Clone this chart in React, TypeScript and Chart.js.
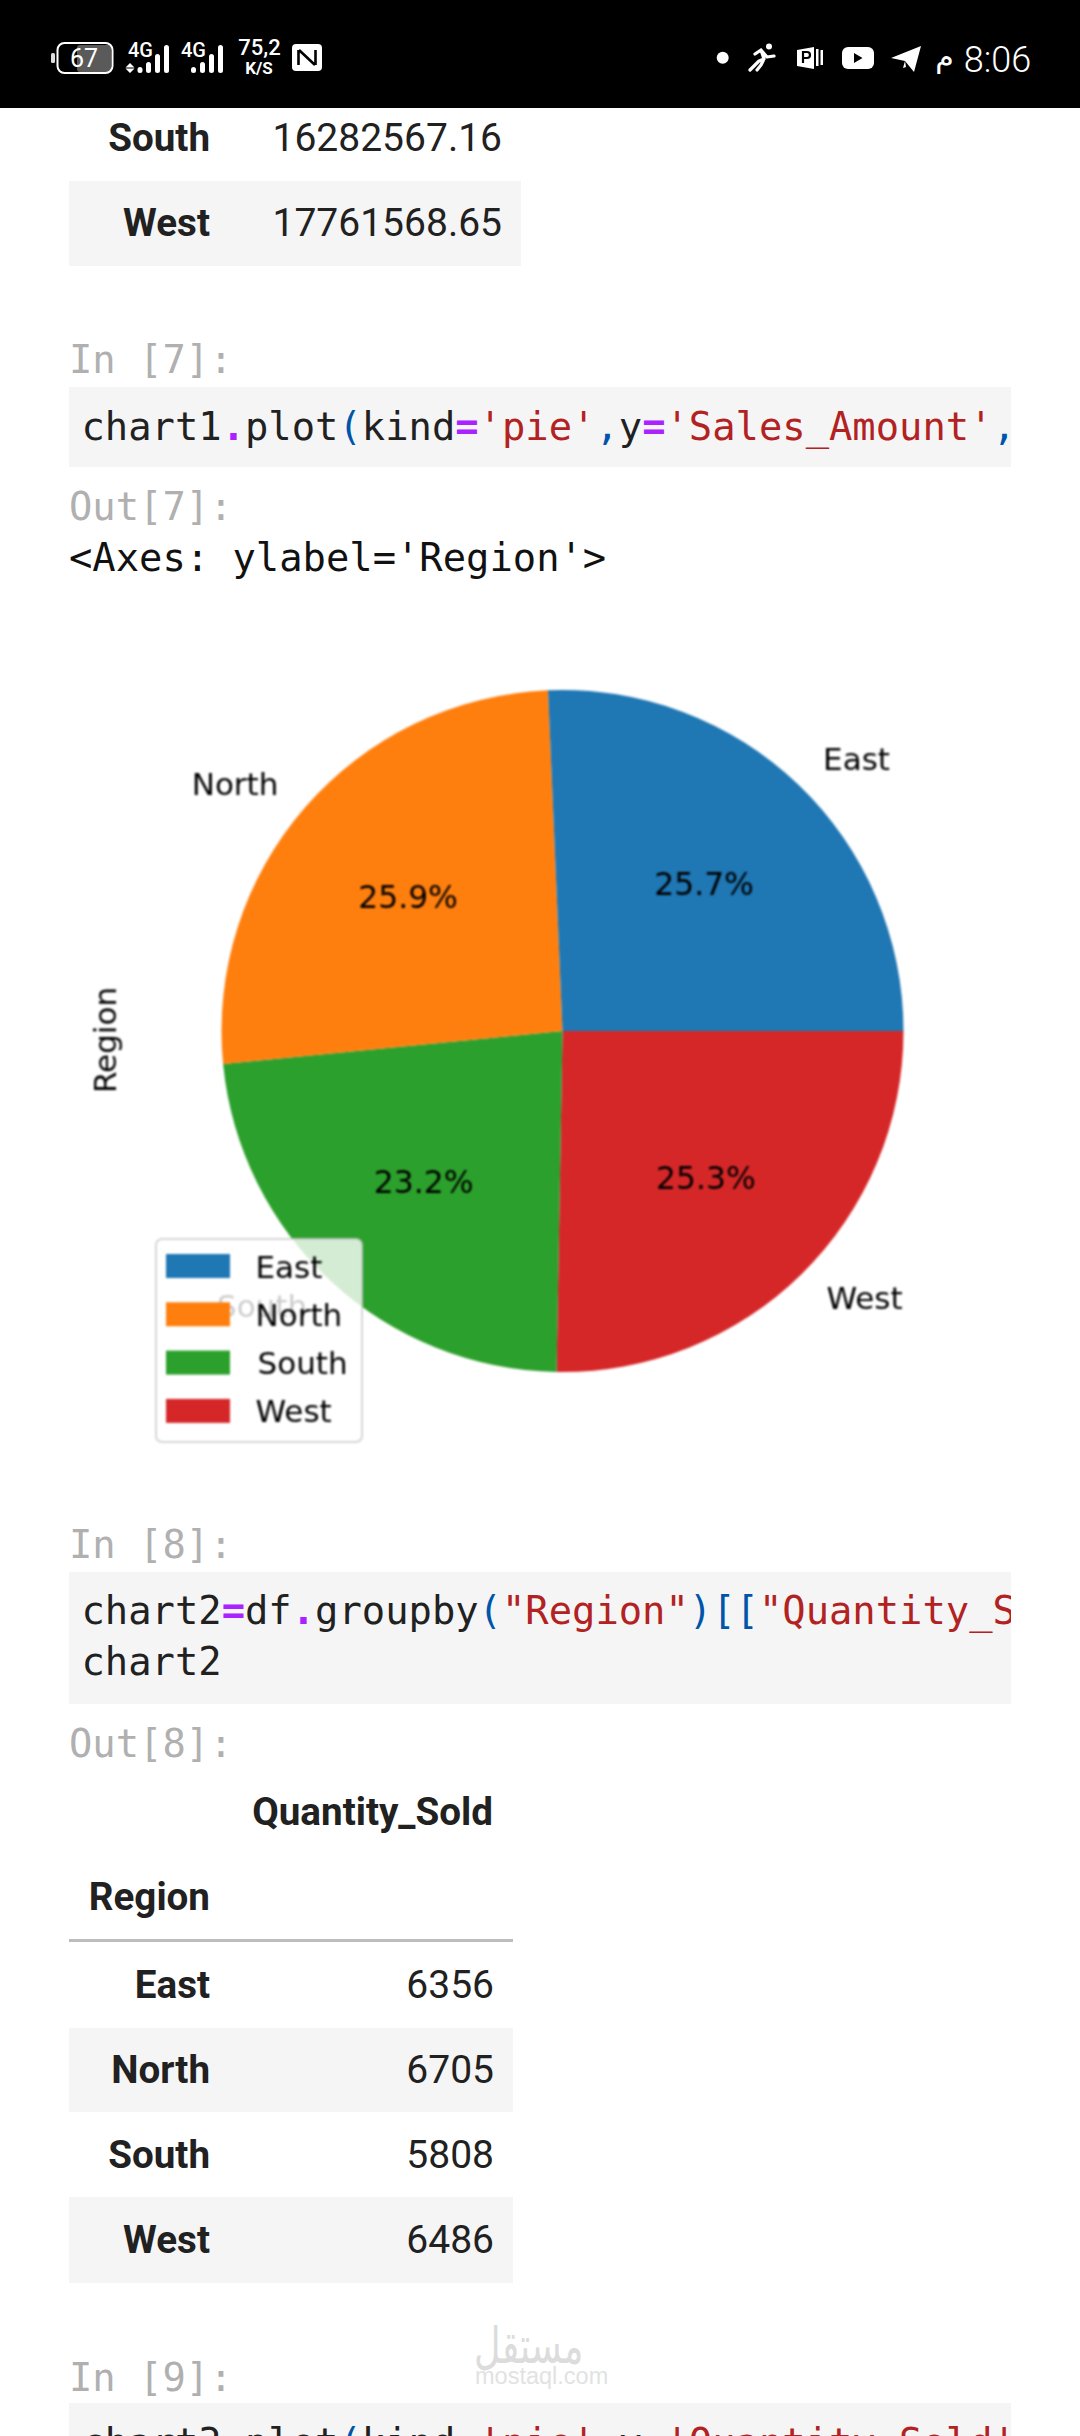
import React, { useEffect, useRef } from "react";
import { Chart, registerables } from "chart.js";

Chart.register(...registerables);

const regions = ["East", "North", "South", "West"];
const salesAmount = [18040000.0, 18180000.0, 16282567.16, 17761568.65];
const percentLabels = ["25.7%", "25.9%", "23.2%", "25.3%"];
const sliceColors = ["#1f77b4", "#ff7f0e", "#2ca02c", "#d62728"];
const quantityRegions = ["East", "North", "South", "West"];
const quantitySold = ["6356", "6705", "5808", "6486"];

const TEXT = "#212121";
const MONO = '"DejaVu Sans Mono", monospace';
const SANS = 'Roboto, sans-serif';
const PANEL = "#f5f5f5";
const FS = 39;
const BFS = 38.6;
const MFS = 38.8;

// The slices run counter-clockwise from 3 o'clock in the reference; Chart.js runs clockwise.
const rev = <T,>(a: T[]) => [...a].reverse();

const piePlugin = {
  id: "pieAnnotations",
  afterDatasetsDraw(chart: any) {
    const ctx = chart.ctx as CanvasRenderingContext2D;
    const arcs = chart.getDatasetMeta(0).data;
    const labs = rev(regions);
    const pcts = rev(percentLabels);
    ctx.save();
    ctx.fillStyle = "#000";
    ctx.textBaseline = "middle";
    arcs.forEach((arc: any, i: number) => {
      const { x, y, startAngle, endAngle, outerRadius } = arc.getProps(
        ["x", "y", "startAngle", "endAngle", "outerRadius"],
        true
      );
      const mid = (startAngle + endAngle) / 2;
      ctx.font = '31px "DejaVu Sans"';
      const c = Math.cos(mid);
      ctx.textAlign = c > 0 ? "left" : "right";
      ctx.fillText(labs[i], x + 1.1 * outerRadius * c + (c > 0 ? 1 : -1), y + 2 + 1.1 * outerRadius * Math.sin(mid));
      ctx.font = '31.4px "DejaVu Sans"';
      ctx.textAlign = "center";
      ctx.fillText(pcts[i], x + 0.6 * outerRadius * c, y + 3.5 + 0.6 * outerRadius * Math.sin(mid));
    });

    // ylabel
    ctx.save();
    ctx.translate(107.5, 1040 - chart.canvas.offsetTop);
    ctx.rotate(-Math.PI / 2);
    ctx.font = '31px "DejaVu Sans"';
    ctx.textAlign = "center";
    ctx.fillStyle = "#000";
    ctx.fillText("Region", 0, 0);
    ctx.restore();

    // legend
    const top = chart.canvas.offsetTop;
    ctx.beginPath();
    ctx.roundRect(156, 1239 - top, 206, 203, 6);
    ctx.fillStyle = "rgba(255,255,255,0.8)";
    ctx.fill();
    ctx.lineWidth = 2;
    ctx.strokeStyle = "rgba(204,204,204,0.8)";
    ctx.stroke();
    ctx.font = '31px "DejaVu Sans"';
    ctx.textAlign = "left";
    regions.forEach((r, i) => {
      const rowY = 1254 + i * 48.3 - top;
      ctx.fillStyle = sliceColors[i];
      ctx.fillRect(166, rowY, 64, 24);
      ctx.fillStyle = "#000";
      ctx.fillText(r, r === "South" ? 257.5 : 255.5, rowY + 15.5);
    });
    ctx.restore();
  },
};

function PieChart() {
  const ref = useRef<HTMLCanvasElement>(null);
  useEffect(() => {
    const chart = new Chart(ref.current!, {
      type: "pie",
      data: {
        labels: rev(regions),
        datasets: [
          {
            data: rev(salesAmount),
            backgroundColor: rev(sliceColors),
            borderWidth: 0,
          },
        ],
      },
      options: {
        animation: false,
        responsive: false,
        rotation: 90,
        layout: { padding: { left: 221.5, right: 176.5, top: 70, bottom: 88 } },
        plugins: { legend: { display: false }, tooltip: { enabled: false } },
      },
      plugins: [piePlugin],
    } as any);
    return () => chart.destroy();
  }, []);
  return (
    <canvas
      ref={ref}
      width={1080}
      height={840}
      style={{ position: "absolute", left: 0, top: 620, width: 1080, height: 840, filter: "blur(0.8px)" }}
    />
  );
}

type TxtProps = {
  x?: number;
  right?: number;
  y: number;
  children: React.ReactNode;
  font?: string;
  size?: number;
  weight?: number;
  color?: string;
  squeeze?: number;
};
function Txt({ x, right, y, children, font = SANS, size = FS, weight = 400, color = TEXT, squeeze }: TxtProps) {
  const s: React.CSSProperties = {
    position: "absolute",
    top: y - 30,
    lineHeight: "60px",
    height: 60,
    fontFamily: font,
    fontSize: weight === 700 ? BFS : size,
    fontWeight: weight,
    color,
    whiteSpace: "pre",
  };
  if (x !== undefined) s.left = x;
  if (right !== undefined) s.right = 1080 - right;
  if (squeeze) {
    s.transform = `scaleX(${squeeze})`;
    s.transformOrigin = "left center";
  }
  return <div style={s}>{children}</div>;
}

function Panel({ top, bottom, right }: { top: number; bottom: number; right: number }) {
  return <div style={{ position: "absolute", left: 69, width: right - 69, top, height: bottom - top, background: PANEL }} />;
}

const OP = { color: "#aa22ff", fontWeight: 700 };
const STR = { color: "#b22222" };
const PUN = { color: "#0055aa" };

function Code({ y, tokens }: { y: number; tokens: [string, any?][] }) {
  return (
    <div
      style={{
        position: "absolute",
        left: 81.5,
        top: y - 30,
        width: 1011 - 81.5,
        height: 60,
        lineHeight: "60px",
        overflow: "hidden",
        whiteSpace: "pre",
        fontFamily: MONO,
        fontSize: MFS,
        color: TEXT,
      }}
    >
      {tokens.map(([t, st], i) => (
        <span key={i} style={st}>
          {t}
        </span>
      ))}
    </div>
  );
}

const Prompt = ({ y, children }: { y: number; children: string }) => (
  <Txt x={69} y={y} font={MONO} size={MFS} color="#b0b0b0">
    {children}
  </Txt>
);

function StatusBar() {
  const bars = (xs: number[]) =>
    xs.map((bx, i) => {
      const t = [67, 62, 54, 45][i];
      return <rect key={bx} x={bx - 2.5} y={t} width={5} height={73 - t} rx={2.5} fill="#fff" />;
    });
  const f = { fontFamily: SANS, fill: "#fff", textAnchor: "middle" as const };
  return (
    <svg
      width={1080}
      height={108}
      style={{ position: "absolute", left: 0, top: 0, display: "block", background: "#000" }}
    >
      <rect x={51} y={53} width={4} height={10} rx={1.5} fill="#ddd" />
      <rect x={77} y={45} width={34} height={27} rx={3} fill="#5a5a5a" />
      <rect x={57.5} y={43} width={55} height={30} rx={7} fill="none" stroke="#fff" strokeWidth={2} />
      <text x={84} y={67} fontSize={25} {...f}>67</text>

      <text x={140.5} y={57} fontSize={20} fontWeight={500} {...f}>4G</text>
      <path d="M130 63l4.5 4.5h-9zM130 73l4.5-4.5h-9z" fill="#fff" />
      {bars([140, 148.5, 157.5, 166.5])}

      <text x={193.5} y={57} fontSize={20} fontWeight={500} {...f}>4G</text>
      {bars([193.5, 202.5, 211.5, 220.5])}

      <text x={259.5} y={55} fontSize={22} fontWeight={500} {...f}>75,2</text>
      <text x={259} y={74} fontSize={17} fontWeight={700} {...f}>K/S</text>

      <rect x={292} y={44} width={30} height={27} rx={4} fill="#fff" />
      <path d="M298.5 50v15M315.5 50v15M299 50l16 15" stroke="#000" strokeWidth={2.6} fill="none" />

      <circle cx={722.7} cy={57.7} r={6} fill="#fff" />

      <g stroke="#fff" strokeWidth={3.2} fill="none" strokeLinecap="round" strokeLinejoin="round">
        <path d="M750 70l9-9 5-2-3-9-6 4M761 50l6 7 7-1M764 59l-3 6-4 5" />
      </g>
      <circle cx={769} cy={46.5} r={3} fill="#fff" />

      <path d="M797 50l17-3v22l-17-3z" fill="#fff" />
      <path d="M803 63V52h4a3 3 0 0 1 0 6h-4" stroke="#000" strokeWidth={2.2} fill="none" />
      <rect x={816} y={49} width={2.5} height={17} fill="#fff" />
      <rect x={820.5} y={50} width={2.5} height={15} fill="#fff" />

      <rect x={842} y={47} width={32} height={22} rx={6} fill="#fff" />
      <path d="M854 53l8.5 5-8.5 5z" fill="#000" />

      <path d="M891 58l30-12-7 26-9-11z" fill="#fff" />
      <path d="M905 61l-2 7 3-1" fill="#fff" />

      <text x={944.5} y={67} fontSize={30} fontFamily='"DejaVu Sans"' fill="#fff" textAnchor="middle">م</text>
      <text x={997.5} y={72} fontSize={36} fontWeight={300} {...f}>8:06</text>
    </svg>
  );
}

export default function App() {
  return (
    <div style={{ position: "absolute", left: 0, top: 0, width: 1080, height: 2436, overflow: "hidden", background: "#fff" }}>
      <StatusBar />

      <Txt right={210} y={138} weight={700}>South</Txt>
      <Txt right={502} y={138}>16282567.16</Txt>
      <Panel top={181} bottom={265.6} right={520.7} />
      <Txt right={210} y={223} weight={700}>West</Txt>
      <Txt right={502} y={223}>17761568.65</Txt>

      <Prompt y={360}>In [7]:</Prompt>
      <Panel top={386.5} bottom={467} right={1011} />
      <Code
        y={427}
        tokens={[
          ["chart1"],
          [".", OP],
          ["plot"],
          ["(", PUN],
          ["kind"],
          ["=", OP],
          ["'pie'", STR],
          [",", PUN],
          ["y"],
          ["=", OP],
          ["'Sales_Amount'", STR],
          [",", PUN],
        ]}
      />
      <Prompt y={507}>Out[7]:</Prompt>
      <Txt x={69} y={558} font={MONO} size={MFS} color="#111">{"<Axes: ylabel='Region'>"}</Txt>

      <PieChart />

      <Prompt y={1545}>In [8]:</Prompt>
      <Panel top={1571.6} bottom={1703.6} right={1011} />
      <Code
        y={1611}
        tokens={[
          ["chart2"],
          ["=", OP],
          ["df"],
          [".", OP],
          ["groupby"],
          ["(", PUN],
          ['"Region"', STR],
          [")", PUN],
          ["[[", PUN],
          ['"Quantity_Sold"', STR],
          ["]]", PUN],
        ]}
      />
      <Code y={1662} tokens={[["chart2"]]} />
      <Prompt y={1744}>Out[8]:</Prompt>

      <Txt right={493} y={1812} weight={700}>Quantity_Sold</Txt>
      <Txt right={210} y={1897} weight={700}>Region</Txt>
      <div style={{ position: "absolute", left: 69, width: 444, top: 1939, height: 3, background: "#bdbdbd" }} />
      <Panel top={2027.8} bottom={2112} right={513} />
      <Panel top={2197} bottom={2282.7} right={513} />
      {quantityRegions.map((r, i) => (
        <React.Fragment key={r}>
          <Txt right={210} y={1984.5 + i * 85.3} weight={700}>{r}</Txt>
          <Txt right={494} y={1984.5 + i * 85.3}>{quantitySold[i]}</Txt>
        </React.Fragment>
      ))}

      <Prompt y={2378}>In [9]:</Prompt>
      <Panel top={2402.7} bottom={2436} right={1011} />
      <Code
        y={2443}
        tokens={[
          ["chart3"],
          [".", OP],
          ["plot"],
          ["(", PUN],
          ["kind"],
          ["=", OP],
          ["'pie'", STR],
          [",", PUN],
          ["y"],
          ["=", OP],
          ["'Quantity_Sold'", STR],
          [",", PUN],
        ]}
      />

      <Txt x={474} y={2346} font='"DejaVu Sans"' size={50} weight={400} color="#dcdcdc" squeeze={0.73}>مستقل</Txt>
      <Txt x={475} y={2376} font='"Liberation Sans", sans-serif' size={23.5} color="#e2e2e2">mostaql.com</Txt>
    </div>
  );
}
